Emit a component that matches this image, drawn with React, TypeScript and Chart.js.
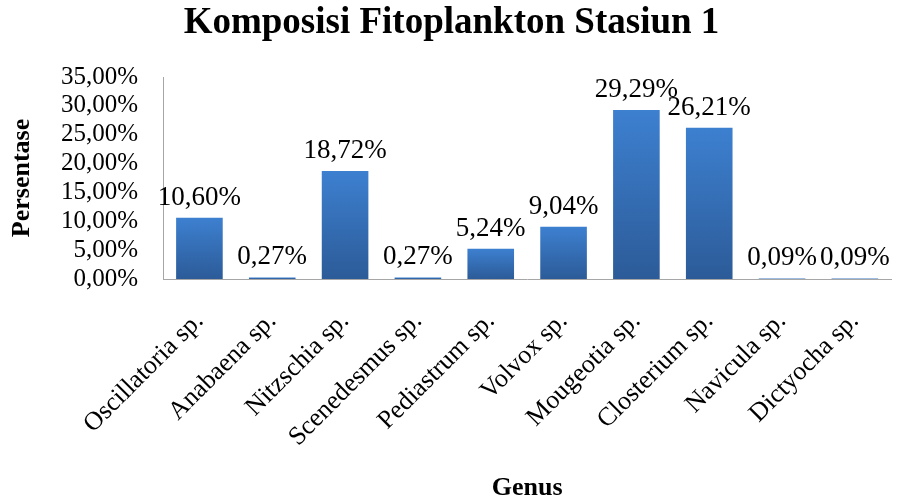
import React, { useEffect, useRef } from "react";
import { Chart, registerables } from "chart.js";

Chart.register(...registerables);

const categories = [
  "Oscillatoria sp.",
  "Anabaena sp.",
  "Nitzschia sp.",
  "Scenedesmus sp.",
  "Pediastrum sp.",
  "Volvox sp.",
  "Mougeotia sp.",
  "Closterium sp.",
  "Navicula sp.",
  "Dictyocha sp.",
];
const percentages = [10.6, 0.27, 18.72, 0.27, 5.24, 9.04, 29.29, 26.21, 0.09, 0.09];
const yTicks = [0, 5, 10, 15, 20, 25, 30, 35];

const chartTitle = "Komposisi Fitoplankton Stasiun 1";
const xTitle = "Genus";
const yTitle = "Persentase";

const SERIF = "'Liberation Serif', 'Times New Roman', serif";

const fmt = (v: number) => v.toFixed(2).replace(".", ",") + "%";

const dataLabelPlugin = {
  id: "dataLabels",
  afterDatasetsDraw(chart: any) {
    const ctx = chart.ctx;
    const meta = chart.getDatasetMeta(0);
    ctx.save();
    ctx.font = `27px ${SERIF}`;
    ctx.fillStyle = "#000";
    ctx.textAlign = "center";
    ctx.textBaseline = "alphabetic";
    meta.data.forEach((bar: any, i: number) => {
      const v = chart.data.datasets[0].data[i] as number;
      ctx.fillText(fmt(v), bar.x, bar.y - 13);
    });
    ctx.restore();
  },
};

export default function App() {
  const canvasRef = useRef<HTMLCanvasElement>(null);

  useEffect(() => {
    const canvas = canvasRef.current;
    if (!canvas) return;
    const chart = new Chart(canvas, {
      type: "bar",
      data: {
        labels: categories,
        datasets: [
          {
            data: percentages,
            backgroundColor: (c: any) => {
              const ch = c.chart;
              const ys = ch.scales && ch.scales.y;
              if (!ys || c.dataIndex === undefined) return "#3a78c4";
              const v = percentages[c.dataIndex];
              const top = ys.getPixelForValue(v);
              const bottom = ys.getPixelForValue(0);
              if (!isFinite(top) || !isFinite(bottom) || bottom - top < 1) return "#3a78c4";
              const g = ch.ctx.createLinearGradient(0, top, 0, bottom);
              g.addColorStop(0, "#3d80d0");
              g.addColorStop(1, "#2c5b98");
              return g;
            },
            borderWidth: 0,
            barPercentage: 0.64,
            categoryPercentage: 1,
          },
        ],
      },
      options: {
        responsive: false,
        animation: false,
        layout: { padding: { left: 0, right: 1, top: 0, bottom: 0 } },
        plugins: {
          legend: { display: false },
          tooltip: { enabled: false },
          title: {
            display: true,
            text: chartTitle,
            color: "#000",
            font: { family: SERIF, size: 37, weight: "bold" },
            padding: { top: 1, bottom: 31.6 },
          },
        },
        scales: {
          x: {
            grid: { display: false, drawTicks: false },
            border: { display: true, color: "#a6a6a6", width: 1 },
            ticks: {
              color: "#000",
              font: { family: SERIF, size: 26 },
              minRotation: 45,
              maxRotation: 45,
              autoSkip: false,
              padding: 27,
            },
            title: {
              display: true,
              text: xTitle,
              color: "#000",
              font: { family: SERIF, size: 26, weight: "bold" },
              padding: { top: 0, bottom: 11 },
            },
            afterFit: (scale: any) => {
              scale.height = 236;
            },
          },
          y: {
            min: 0,
            max: 35,
            grid: { display: false, drawTicks: false },
            border: { display: true, color: "#a6a6a6", width: 1 },
            afterBuildTicks: (scale: any) => {
              scale.ticks = yTicks.map((v) => ({ value: v }));
            },
            ticks: {
              color: "#000",
              font: { family: SERIF, size: 25 },
              padding: 25,
              autoSkip: false,
              callback: (v: any) => fmt(Number(v)),
            },
            title: {
              display: true,
              text: yTitle,
              color: "#000",
              font: { family: SERIF, size: 26, weight: "bold" },
              padding: { top: 7, bottom: 0 },
            },
            afterFit: (scale: any) => {
              scale.width = 163;
            },
          },
        },
      },
      plugins: [dataLabelPlugin],
    });
    return () => chart.destroy();
  }, []);

  return (
    <div
      style={{
        position: "absolute",
        left: 0,
        top: 0,
        width: 904,
        height: 502,
        overflow: "hidden",
        background: "#fff",
      }}
    >
      <canvas ref={canvasRef} width={904} height={515} />
    </div>
  );
}
